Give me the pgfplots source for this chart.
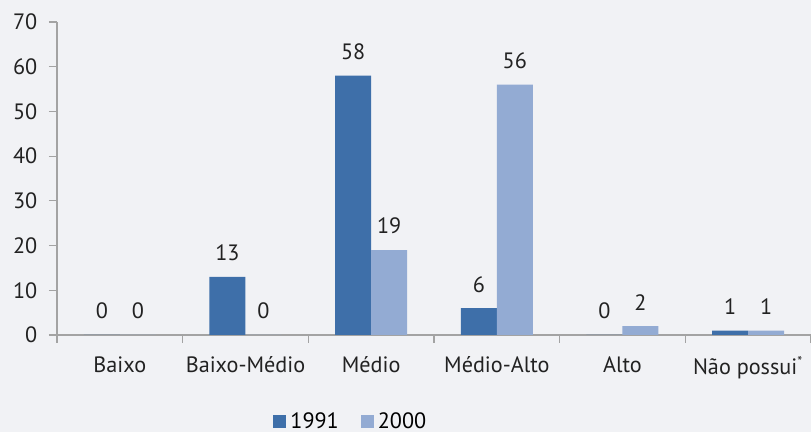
\documentclass[border=0pt]{standalone}
\usepackage{pgfplots}
\pgfplotsset{compat=1.18}
\usepackage{fontspec}
\setmainfont{PT Sans}
\definecolor{bg}{HTML}{F1F2F5}
\definecolor{c91}{HTML}{3E6FA9}
\definecolor{c00}{HTML}{93ABD3}
\definecolor{axc}{HTML}{A3A3A3}
\definecolor{txt}{HTML}{222222}
\newcommand{\lblfont}{\fontsize{11.1}{13}\selectfont}
\begin{document}
\lblfont
\begin{tikzpicture}
\path[use as bounding box, fill=bg] (-28.5pt,-48.5pt) rectangle (377pt,167.5pt);
\begin{axis}[
    scale only axis, width=377pt, height=156.5pt,
    ybar=0pt, bar width=18pt,
    xmin=-0.5, xmax=5.5, ymin=0, ymax=70,
    ytick={0,10,...,70},
    xtick={0,...,5},
    xticklabels={Baixo,Baixo-Médio,Médio,Médio-Alto,Alto,Não possui\textsuperscript{\scriptsize *}},
    minor xtick={-0.5,0.5,...,5.5},
    major x tick style={draw=none},
    axis x line*=bottom, axis y line*=left,
    axis line style={axc, line width=0.6pt, -},
    tick align=outside,
    major tick length=4pt, minor tick length=4pt,
    every tick/.style={axc, line width=0.6pt},
    minor x tick style={axc, line width=0.6pt},
    tick label style={font=\lblfont, text=txt},
    xticklabel style={yshift=-3pt},
    yticklabel style={xshift=-2pt},
    /pgf/number format/assume math mode=true,
    nodes near coords,
    nodes near coords style={font=\lblfont, text=txt, yshift=4pt},
    legend style={at={(0.391,-0.278)}, anchor=center, draw=none, fill=none,
        legend columns=2, font=\lblfont,
        /tikz/every even column/.append style={column sep=9pt}},
    legend image code/.code={\fill[#1] (0pt,-3.25pt) rectangle (6.5pt,3.25pt);},
]
\addplot[fill=c91, draw=none] coordinates {(0,0) (1,13) (2,58) (3,6) (4,0) (5,1)};
\addplot[fill=c00, draw=none] coordinates {(0,0) (1,0) (2,19) (3,56) (4,2) (5,1)};
\legend{1991,2000}
\end{axis}
\end{tikzpicture}
\end{document}
